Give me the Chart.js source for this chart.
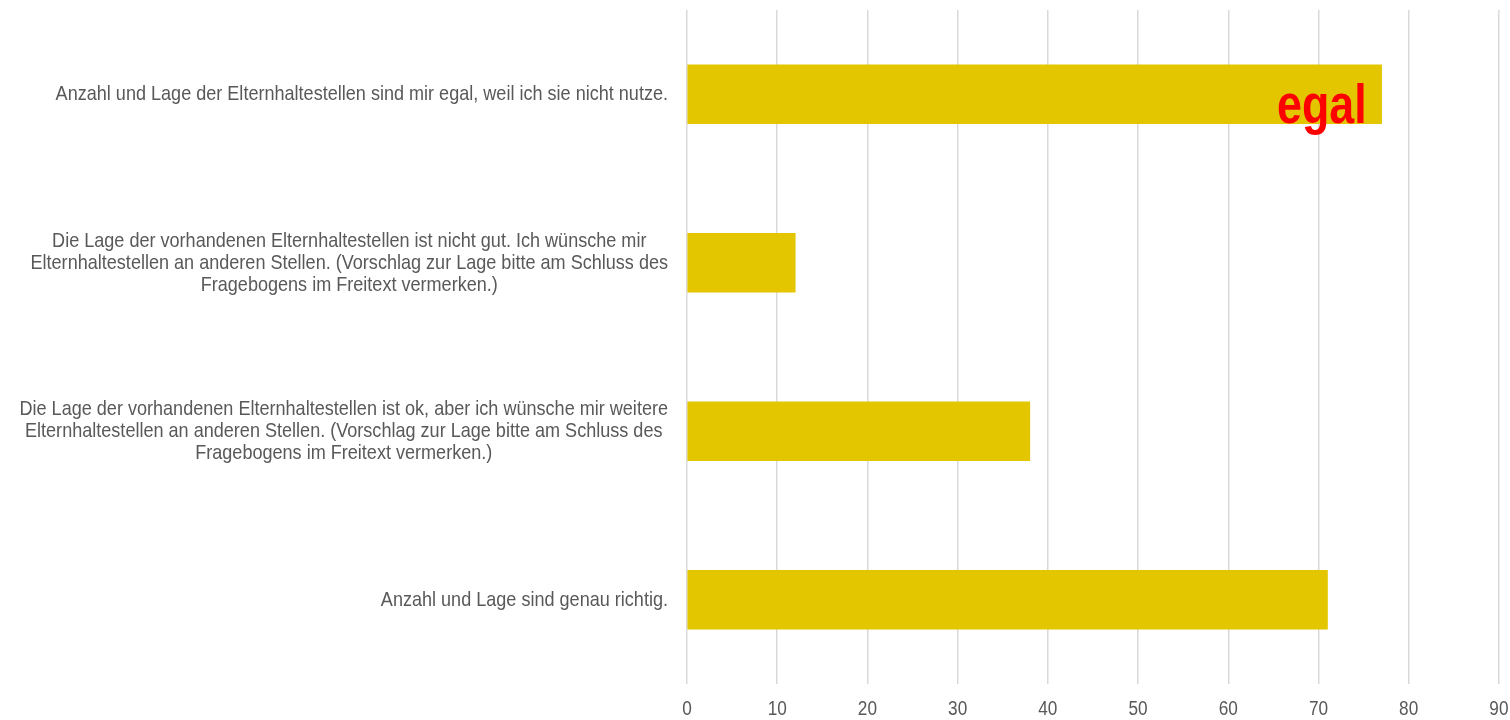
<!DOCTYPE html>
<html>
<head>
<meta charset="utf-8">
<script src="https://cdn.jsdelivr.net/npm/chart.js@4/dist/chart.umd.min.js"></script>
<style>
  body { margin: 0; background: #fff; }
</style>
</head>
<body>
<canvas id="chart" width="1510" height="720"></canvas>
<script>
const categories = [
    ['Anzahl und Lage der Elternhaltestellen sind mir egal, weil ich sie nicht nutze.'],
    ['Die Lage der vorhandenen Elternhaltestellen ist nicht gut. Ich wünsche mir',
     'Elternhaltestellen an anderen Stellen. (Vorschlag zur Lage bitte am Schluss des',
     'Fragebogens im Freitext vermerken.)'],
    ['Die Lage der vorhandenen Elternhaltestellen ist ok, aber ich wünsche mir weitere',
     'Elternhaltestellen an anderen Stellen. (Vorschlag zur Lage bitte am Schluss des',
     'Fragebogens im Freitext vermerken.)'],
    ['Anzahl und Lage sind genau richtig.']
];
const answers = [77, 12, 38, 71];
const notes = ['egal', '', '', ''];

const labelFont = "'Liberation Sans', Arial, sans-serif";
const textColor = '#595959';
const narrow = 0.86;   // squeeze text horizontally, narrow face look

// category labels: block is right aligned, lines centred inside the block
const categoryLabels = {
    id: 'categoryLabels',
    afterDraw(chart) {
        const ctx = chart.ctx;
        const yScale = chart.scales.y;
        const right = yScale.right - 19;
        const lineHeight = 22;
        ctx.save();
        ctx.font = '21px ' + labelFont;
        ctx.fillStyle = textColor;
        ctx.textAlign = 'center';
        ctx.textBaseline = 'middle';
        categories.forEach((lines, i) => {
            const y = yScale.getPixelForTick(i);
            const widest = Math.max(...lines.map(l => ctx.measureText(l).width)) * narrow;
            const cx = right - widest / 2;
            const top = y - (lines.length - 1) * lineHeight / 2;
            lines.forEach((line, j) => {
                ctx.save();
                ctx.translate(cx, top + j * lineHeight);
                ctx.scale(narrow, 1);
                ctx.fillText(line, 0, 0);
                ctx.restore();
            });
        });
        ctx.restore();
    }
};

// value axis labels, same narrow look
const valueLabels = {
    id: 'valueLabels',
    afterDraw(chart) {
        const ctx = chart.ctx;
        const xScale = chart.scales.x;
        const y = xScale.top + 25;
        ctx.save();
        ctx.font = '20px ' + labelFont;
        ctx.fillStyle = textColor;
        ctx.textAlign = 'center';
        ctx.textBaseline = 'middle';
        xScale.ticks.forEach((tick, i) => {
            ctx.save();
            ctx.translate(xScale.getPixelForTick(i), y);
            ctx.scale(narrow, 1);
            ctx.fillText(String(tick.value), 0, 0);
            ctx.restore();
        });
        ctx.restore();
    }
};

// red note written into the end of a bar
const barNotes = {
    id: 'barNotes',
    afterDatasetsDraw(chart) {
        const ctx = chart.ctx;
        const bars = chart.getDatasetMeta(0).data;
        ctx.save();
        ctx.font = 'bold 56px ' + labelFont;
        ctx.fillStyle = '#FF0000';
        ctx.textAlign = 'right';
        ctx.textBaseline = 'alphabetic';
        bars.forEach((bar, i) => {
            if (!notes[i]) return;
            ctx.save();
            ctx.translate(bar.x - 15, bar.y + bar.height / 2 - 1);
            ctx.scale(0.8, 1);
            ctx.fillText(notes[i], 0, 0);
            ctx.restore();
        });
        ctx.restore();
    }
};

new Chart(document.getElementById('chart'), {
    type: 'bar',
    data: {
        labels: categories,
        datasets: [{
            data: answers,
            backgroundColor: '#E3C600',
            barThickness: 59
        }]
    },
    options: {
        indexAxis: 'y',
        responsive: false,
        animation: false,
        layout: { padding: { top: 10, right: 2, bottom: 0 } },
        plugins: {
            legend: { display: false },
            tooltip: { enabled: false }
        },
        scales: {
            x: {
                min: 0,
                max: 90,
                ticks: {
                    stepSize: 10,
                    color: 'rgba(0,0,0,0)',
                    font: { family: labelFont, size: 20 },
                    padding: 0
                },
                grid: { color: '#D9D9D9', lineWidth: 1.5, drawTicks: false },
                border: { display: false },
                afterFit(scale) { scale.height = 36; }
            },
            y: {
                ticks: { display: false },
                grid: { display: false },
                border: { display: false },
                afterFit(scale) { scale.width = 687; }
            }
        }
    },
    plugins: [categoryLabels, valueLabels, barNotes]
});
</script>
</body>
</html>
